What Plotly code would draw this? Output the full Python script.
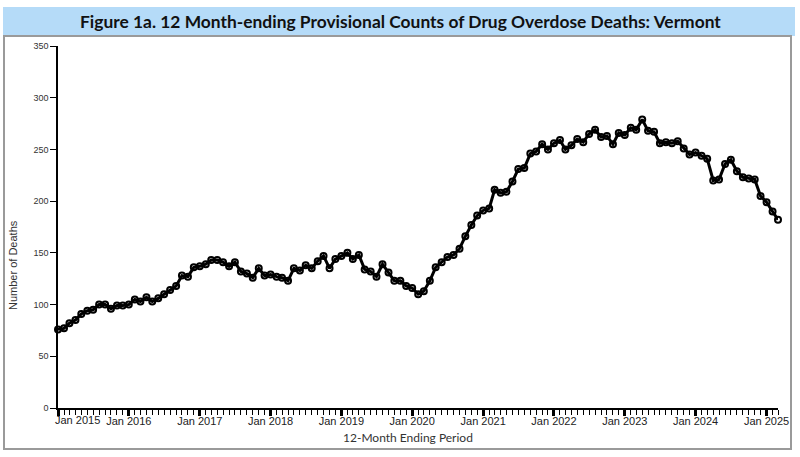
import pandas as pd
import plotly.graph_objects as go

W, H = 800, 457
L, R, T, B = 58, 22, 46, 49

TITLE = "Figure 1a. 12 Month-ending Provisional Counts of Drug Overdose Deaths: Vermont"
X_TITLE = "12-Month Ending Period"
Y_TITLE = "Number of Deaths"

START_MONTH = "2015-01-01"

# 12-month ending counts, one value per month from Jan 2015 to Mar 2025
DEATHS = [
    76, 77, 82, 85, 91, 94, 95, 100, 100, 96, 99, 99,
    100, 105, 103, 107, 103, 106, 110, 114, 118, 128, 127, 136,
    137, 139, 143, 143, 141, 137, 141, 132, 130, 126, 135, 128,
    129, 127, 126, 123, 135, 133, 138, 135, 142, 147, 135, 144,
    147, 150, 144, 148, 134, 132, 127, 139, 131, 123, 123, 118,
    116, 110, 113, 123, 136, 141, 146, 148, 154, 166, 177, 186,
    191, 193, 211, 208, 209, 219, 231, 232, 246, 248, 255, 250,
    256, 259, 250, 254, 260, 257, 265, 269, 262, 263, 255, 266,
    264, 271, 269, 279, 268, 267, 256, 257, 256, 258, 251, 245,
    247, 244, 241, 220, 221, 236, 240, 229, 223, 222, 221, 205,
    199, 190, 182,
]

YEAR_TICKS = [f"{y}-01-01" for y in range(2015, 2026)]
YEAR_LABELS = [""] + [f"Jan {y}" for y in range(2016, 2026)]
Y_TICKS = [0, 50, 100, 150, 200, 250, 300, 350]

months = pd.date_range(START_MONTH, periods=len(DEATHS), freq="MS")

PW = W - L - R
PH = H - T - B


def px(x):
    return (x - L) / PW


def py(y):
    return (H - B - y) / PH


fig = go.Figure()

# markers under the line, so the line runs through them
fig.add_trace(go.Scatter(
    x=months, y=DEATHS, mode="markers",
    marker=dict(size=6, color="white", line=dict(color="black", width=2)),
    cliponaxis=False, hoverinfo="skip", showlegend=False,
))
fig.add_trace(go.Scatter(
    x=months, y=DEATHS, mode="lines",
    line=dict(color="black", width=3),
    cliponaxis=False, showlegend=False,
))

fig.update_layout(
    width=W, height=H,
    margin=dict(l=L, r=R, t=T, b=B),
    paper_bgcolor="white", plot_bgcolor="white",
    font=dict(family="Liberation Sans, Arial, sans-serif", color="#333"),
    xaxis=dict(
        range=[months[0], months[-1]],
        tickmode="array", tickvals=YEAR_TICKS, ticktext=YEAR_LABELS,
        ticks="outside", ticklen=6, tickwidth=3, tickcolor="black",
        ticklabelstandoff=-4,
        tickfont=dict(size=11, color="#222"),
        showline=True, linecolor="black", linewidth=1.5,
        showgrid=False, zeroline=False,
        minor=dict(dtick="M1", tick0=START_MONTH, ticks="outside",
                   ticklen=5, tickwidth=1, tickcolor="black", showgrid=False),
    ),
    yaxis=dict(
        range=[0, 350],
        tickmode="array", tickvals=Y_TICKS,
        ticks="outside", ticklen=6, tickwidth=1, tickcolor="black",
        tickfont=dict(size=9, color="#333"),
        showline=True, linecolor="black", linewidth=1.5,
        showgrid=False, zeroline=False,
    ),
    shapes=[
        # title bar
        dict(type="rect", xref="paper", yref="paper", layer="below",
             x0=px(3), x1=px(795), y0=py(36), y1=py(7),
             fillcolor="#b5dbf8", line=dict(width=0)),
        # frame around the chart
        dict(type="rect", xref="paper", yref="paper", layer="below",
             x0=px(4), x1=px(791), y0=py(449), y1=py(36),
             fillcolor="rgba(0,0,0,0)", line=dict(color="#9a9a9a", width=2)),
    ],
    annotations=[
        dict(text=f"<b>{TITLE}</b>", xref="paper", yref="paper",
             x=px(400), y=py(22), showarrow=False, xanchor="center", yanchor="middle",
             font=dict(family="Lato, sans-serif", size=17.4, color="#111")),
        dict(text=X_TITLE, xref="paper", yref="paper",
             x=px(408), y=py(437), showarrow=False, xanchor="center", yanchor="middle",
             font=dict(family="Lato, sans-serif", size=12, color="#333")),
        dict(text=Y_TITLE, xref="paper", yref="paper", textangle=-90,
             x=px(13), y=py(265), showarrow=False, xanchor="center", yanchor="middle",
             font=dict(family="Liberation Sans, Arial, sans-serif", size=11, color="#333")),
        # first year label sits right of its tick
        dict(text="Jan 2015", xref="paper", yref="paper",
             x=px(53), y=py(420), showarrow=False, xanchor="left", yanchor="middle",
             font=dict(family="Liberation Sans, Arial, sans-serif", size=11, color="#222")),
    ],
)

# drop the browser's default page margin so the figure sits at 0,0
fig.write_html("out.html", config={"displayModeBar": False},
               post_script="document.body.style.margin = '0';")
